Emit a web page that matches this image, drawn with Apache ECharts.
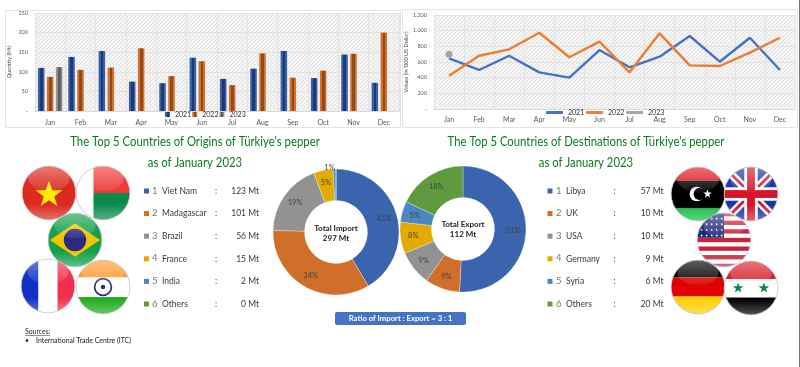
<!DOCTYPE html>
<html>
<head>
<meta charset="utf-8">
<style>
  html, body { margin: 0; padding: 0; background: #fff; }
  #chart { width: 800px; height: 367px; }
</style>
<script src="https://cdn.jsdelivr.net/npm/echarts@6/dist/echarts.min.js"></script>
</head>
<body>
<div id="chart"></div>
<script>
const months = ['Jan', 'Feb', 'Mar', 'Apr', 'May', 'Jun', 'Jul', 'Aug', 'Sep', 'Oct', 'Nov', 'Dec']
const years = ['2021', '2022', '2023']

const qty2021 = [110, 138, 153, 75, 71, 136, 82, 108, 153, 84, 144, 72]
const qty2022 = [87, 105, 111, 160, 89, 127, 66, 147, 85, 103, 146, 200]
const qty2023 = [112, null, null, null, null, null, null, null, null, null, null, null]

const val2021 = [647, 498, 680, 468, 400, 753, 532, 668, 932, 604, 910, 498]
const val2022 = [425, 680, 762, 974, 660, 860, 468, 966, 557, 549, 719, 910]
const val2023 = [698, null, null, null, null, null, null, null, null, null, null, null]

const importNames = ['Viet Nam', 'Madagascar', 'Brazil', 'France', 'India', 'Others']
const importValues = [123, 101, 56, 15, 2, 0]
const exportNames = ['Libya', 'UK', 'USA', 'Germany', 'Syria', 'Others']
const exportValues = [57, 10, 10, 9, 6, 20]

const sliceColors = ['#3a64ad', '#d06f2a', '#929292', '#e5aa00', '#4a86c0', '#5f9a3f']
const FONT = 'Lato, "Open Sans", sans-serif'
const GREEN = '#0b7a1e'
const TEXT = '#3a3a3a'

// grey hatch behind the two plots
function hatch () {
  const c = document.createElement('canvas')
  c.width = 4
  c.height = 4
  const ctx = c.getContext('2d')
  ctx.fillStyle = '#f5f5f5'
  ctx.fillRect(0, 0, 4, 4)
  ctx.strokeStyle = '#dedede'
  ctx.lineWidth = 1
  ctx.beginPath()
  ctx.moveTo(0, 4)
  ctx.lineTo(4, 0)
  ctx.stroke()
  return { image: c, repeat: 'repeat' }
}

function barFill (edge, dark) {
  return {
    type: 'linear', x: 0, y: 0, x2: 1, y2: 0,
    colorStops: [
      { offset: 0, color: edge },
      { offset: 0.3, color: edge },
      { offset: 0.35, color: dark },
      { offset: 0.7, color: dark },
      { offset: 0.75, color: edge },
      { offset: 1, color: edge }
    ]
  }
}

// round glossy flags, drawn as small svg images
function flag (inner) {
  const svg = '<svg xmlns="http://www.w3.org/2000/svg" width="224" height="224" viewBox="0 0 100 100">' +
    '<defs><clipPath id="c"><circle cx="50" cy="50" r="48"/></clipPath>' +
    '<linearGradient id="g" x1="0" y1="0" x2="0" y2="1"><stop offset="0" stop-color="#fff" stop-opacity=".38"/><stop offset="1" stop-color="#fff" stop-opacity=".06"/></linearGradient>' +
    '<linearGradient id="s" x1="0" y1="0" x2="0" y2="1"><stop offset=".7" stop-color="#fff" stop-opacity="0"/><stop offset="1" stop-color="#fff" stop-opacity=".35"/></linearGradient></defs>' +
    '<g clip-path="url(#c)">' + inner + '<rect width="100" height="100" fill="url(#s)"/>' +
    '<ellipse cx="50" cy="24" rx="37" ry="23" fill="url(#g)"/></g>' +
    '<circle cx="50" cy="50" r="48" fill="none" stroke="#c8c8c8" stroke-width="1.5"/></svg>'
  return 'data:image/svg+xml;charset=utf-8,' + encodeURIComponent(svg)
}

function star (cx, cy, r, fill) {
  let pts = ''
  for (let i = 0; i < 10; i++) {
    const a = -Math.PI / 2 + i * Math.PI / 5
    const rr = i % 2 ? r * 0.4 : r
    pts += (cx + rr * Math.cos(a)).toFixed(1) + ',' + (cy + rr * Math.sin(a)).toFixed(1) + ' '
  }
  return '<polygon points="' + pts + '" fill="' + fill + '"/>'
}

function rects (list) {
  return list.map(r => '<rect x="' + r[0] + '" y="' + r[1] + '" width="' + r[2] + '" height="' + r[3] + '" fill="' + r[4] + '"/>').join('')
}

const usStripes = [0, 1, 2, 3, 4, 5, 6].map(i => [0, i * 15.4, 100, 7.7, '#c9233a'])
const usStars = [0, 1, 2, 3].map(r => [0, 1, 2, 3, 4].map(c => star(10 + c * 9, 12 + r * 10, 2.6, '#fff')).join('')).join('')

const flagsLeft = [
  { x: 49, y: 193, art: rects([[0, 0, 100, 100, '#dc2a1e']]) + star(50, 53, 25, '#ffec00') },
  { x: 103, y: 193, art: rects([[0, 0, 100, 100, '#fff'], [33, 0, 67, 50, '#f03a3a'], [33, 50, 67, 50, '#0c8a4c']]) },
  { x: 75, y: 240, art: rects([[0, 0, 100, 100, '#12a04a']]) + '<polygon points="5,50 50,20 95,50 50,80" fill="#f2c300"/><circle cx="50" cy="50" r="20" fill="#2c2a80"/>' },
  { x: 48, y: 286, art: rects([[0, 0, 33, 100, '#1130c8'], [33, 0, 34, 100, '#fff'], [67, 0, 33, 100, '#f2304e']]) },
  { x: 103, y: 287, art: rects([[0, 0, 100, 33, '#ff9a30'], [0, 33, 100, 35, '#fff'], [0, 68, 100, 32, '#1cab1c']]) + '<circle cx="50" cy="50" r="15" fill="#fff" stroke="#2a2a90" stroke-width="3"/><circle cx="50" cy="50" r="4" fill="#2a2a90"/>' }
]
const flagsRight = [
  { x: 698, y: 194, art: rects([[0, 0, 100, 26, '#e0141e'], [0, 26, 100, 50, '#000'], [0, 76, 100, 24, '#10c040']]) + '<circle cx="48" cy="50" r="13" fill="#fff"/><circle cx="53" cy="50" r="11" fill="#000"/>' + star(67, 50, 8, '#fff') },
  { x: 751, y: 194, art: rects([[0, 0, 100, 100, '#2035a0']]) + '<path d="M0 0L100 100M100 0L0 100" stroke="#fff" stroke-width="14"/><path d="M0 0L100 100M100 0L0 100" stroke="#d8142c" stroke-width="5"/>' + rects([[38, 0, 24, 100, '#fff'], [0, 38, 100, 24, '#fff'], [43, 0, 14, 100, '#d8142c'], [0, 43, 100, 14, '#d8142c']]) },
  { x: 724, y: 240, art: rects([[0, 0, 100, 100, '#fff']]) + rects(usStripes) + rects([[0, 0, 50, 46, '#1d2a78']]) + usStars },
  { x: 698, y: 287, art: rects([[0, 0, 100, 33, '#000'], [0, 33, 100, 34, '#e00000'], [0, 67, 100, 33, '#ffce00']]) },
  { x: 751, y: 288, art: rects([[0, 0, 100, 34, '#d81f2a'], [0, 34, 100, 33, '#fff'], [0, 67, 100, 33, '#000']]) + star(27, 50, 10, '#0a8a3c') + star(73, 50, 10, '#0a8a3c') }
]

function textEl (x, y, text, opt, scaleX) {
  return {
    type: 'text', x: x, y: y, z: 10, scaleX: scaleX || 1,
    style: Object.assign({
      text: text, fill: TEXT, font: '8px ' + FONT, align: 'left', verticalAlign: 'middle'
    }, opt || {})
  }
}

// the numbered list next to each doughnut
function listRows (names, values, xs) {
  const els = []
  names.forEach((name, i) => {
    const y = 191 + i * 22.6
    els.push({ type: 'rect', z: 10, shape: { x: xs[0], y: y - 2.5, width: 5, height: 5 }, style: { fill: sliceColors[i] } })
    els.push(textEl(xs[1], y - 0.5, String(i + 1), { font: '9.5px ' + FONT, fill: '#777' }))
    els.push(textEl(xs[2], y, name, { font: '8.5px ' + FONT }))
    els.push(textEl(xs[3], y, ':', { align: 'center', font: '8.5px ' + FONT }))
    els.push(textEl(xs[4], y, values[i] + ' Mt', { align: 'right', font: '8.5px ' + FONT }))
  })
  return els
}

function flagImages (list) {
  return list.map(f => ({
    type: 'image', z: 8, x: f.x - 28, y: f.y - 28,
    style: { image: flag(f.art), x: 0, y: 0, width: 56, height: 56 }
  }))
}

const sum = list => list.reduce((a, b) => a + b, 0)

function doughnut (name, center, names, values) {
  return {
    type: 'pie',
    name: name,
    center: center,
    radius: [31.5, 63],
    startAngle: 90,
    percentPrecision: 0,
    avoidLabelOverlap: false,
    itemStyle: { borderColor: '#fff', borderWidth: 0.3 },
    label: { position: 'inside', formatter: '{d}%', fontFamily: FONT, fontSize: 7.5, color: '#444' },
    labelLine: { show: false, length: 1, length2: 0 },
    data: names.map((n, i) => {
      const item = { name: n, value: values[i], itemStyle: { color: sliceColors[i] } }
      // thin slices do not hold a label
      if (values[i] === 0) item.label = { show: false }
      else if (values[i] / sum(values) < 0.02) item.label = { position: 'outside', distanceToLabelLine: 0, align: 'center' }
      return item
    })
  }
}

const catAxis = (gridIndex, margin) => ({
  type: 'category',
  gridIndex: gridIndex,
  data: months,
  axisTick: { show: false },
  axisLine: { lineStyle: { color: '#d9d9d9' } },
  axisLabel: { fontFamily: FONT, fontSize: 7, color: '#595959', margin: margin },
  splitLine: { show: true, lineStyle: { color: '#e3e3e3' } }
})

const valAxis = (gridIndex, name, max, interval, nameGap, fmt) => ({
  type: 'value',
  gridIndex: gridIndex,
  min: 0,
  max: max,
  interval: interval,
  name: name,
  nameLocation: 'middle',
  nameGap: nameGap,
  nameTextStyle: { fontFamily: FONT, fontSize: 5.5, color: '#444' },
  axisLabel: { fontFamily: FONT, fontSize: 5.5, color: '#595959', margin: 7, formatter: fmt },
  axisLine: { show: false },
  axisTick: { show: false },
  splitLine: { lineStyle: { color: '#e3e3e3' } }
})

const chart = echarts.init(document.getElementById('chart'), null, { renderer: 'canvas' })

const barStyle = { barWidth: 6.5, barGap: '38%', xAxisIndex: 0, yAxisIndex: 0 }
const lineStyle = { xAxisIndex: 1, yAxisIndex: 1, showSymbol: false, symbol: 'circle' }
const titleFont = { font: '14px ' + FONT, fill: GREEN, align: 'center' }
const boldFont = { font: 'bold 8px ' + FONT, fill: '#222', align: 'center' }
const smallFont = { font: '6.9px ' + FONT, fill: '#222' }

chart.setOption({
  animation: false,
  backgroundColor: '#fff',
  textStyle: { fontFamily: FONT },
  grid: [
    { left: 35, top: 13, width: 364, height: 98, show: true, borderWidth: 0, backgroundColor: hatch() },
    { left: 434, top: 15, width: 361, height: 94, show: true, borderWidth: 0, backgroundColor: hatch() }
  ],
  xAxis: [catAxis(0, 8), catAxis(1, 7)],
  yAxis: [
    valAxis(0, 'Quantity (Mt)', 250, 50, 23, v => (v === 0 ? '-' : v)),
    valAxis(1, "Values (in '000 US Dollar)", 1200, 200, 18, v => (v === 0 ? '-' : v >= 1000 ? '1.' + String(v).slice(1) : v))
  ],
  legend: [
    {
      left: 165, top: 111, padding: 0, itemWidth: 5, itemHeight: 5, itemGap: 1, icon: 'rect',
      textStyle: { fontFamily: FONT, fontSize: 7, color: '#333' },
      data: years.map(y => ({ name: y }))
    },
    {
      left: 546, top: 109, padding: 0, itemWidth: 17, itemHeight: 3, itemGap: 0, icon: 'roundRect',
      textStyle: { fontFamily: FONT, fontSize: 7, color: '#333' },
      data: years.map(y => ({ name: y + ' ' }))
    }
  ],
  series: [
    Object.assign({ type: 'bar', name: years[0], data: qty2021, itemStyle: { color: barFill('#3660ac', '#20396f') } }, barStyle),
    Object.assign({ type: 'bar', name: years[1], data: qty2022, itemStyle: { color: barFill('#d2702c', '#8f4a19') } }, barStyle),
    Object.assign({ type: 'bar', name: years[2], data: qty2023, itemStyle: { color: barFill('#929292', '#5c5c5c') } }, barStyle),
    Object.assign({ type: 'line', name: years[0] + ' ', data: val2021, lineStyle: { color: '#4472c4', width: 2.4 }, itemStyle: { color: '#4472c4' } }, lineStyle),
    Object.assign({ type: 'line', name: years[1] + ' ', data: val2022, lineStyle: { color: '#ed7d31', width: 2.4 }, itemStyle: { color: '#ed7d31' } }, lineStyle),
    Object.assign({ type: 'line', name: years[2] + ' ', data: val2023, lineStyle: { color: '#a5a5a5', width: 2.4 }, itemStyle: { color: '#a5a5a5' }, showAllSymbol: true, symbolSize: 7, showSymbol: true, xAxisIndex: 1, yAxisIndex: 1, symbol: 'circle' }),
    doughnut('Import', [336, 232], importNames, importValues),
    doughnut('Export', [463, 229], exportNames, exportValues)
  ],
  graphic: [
    { type: 'rect', z: -1, shape: { x: 5.5, y: 10.5, width: 395, height: 117 }, style: { fill: 'none', stroke: '#e4e4e4', lineWidth: 1 } },
    { type: 'rect', z: -1, shape: { x: 402.5, y: 9.5, width: 395, height: 118 }, style: { fill: 'none', stroke: '#e4e4e4', lineWidth: 1 } },
    { type: 'line', z: 10, shape: { x1: 799.5, y1: 0, x2: 799.5, y2: 367 }, style: { stroke: '#777', lineWidth: 1 } },
    textEl(195, 141, "The Top 5 Countries of Origins of Türkiye's pepper", titleFont, 0.81),
    textEl(195, 162, 'as of January 2023', titleFont, 0.81),
    textEl(586, 141, "The Top 5 Countries of Destinations of Türkiye's pepper", titleFont, 0.81),
    textEl(586, 162, 'as of January 2023', titleFont, 0.81),
    textEl(336, 228, 'Total Import', boldFont),
    textEl(336, 238, sum(importValues) + ' Mt', boldFont),
    textEl(463, 224, 'Total Export', boldFont),
    textEl(463, 234, sum(exportValues) + ' Mt', boldFont),
    { type: 'rect', z: 9, shape: { x: 335, y: 312, width: 131, height: 13, r: 2 }, style: { fill: '#4472c4' } },
    textEl(400.5, 318.5, 'Ratio of Import : Export = 3 : 1', { font: 'bold 7.7px ' + FONT, fill: '#fff', align: 'center' }),
    textEl(25, 332, 'Sources:', smallFont),
    { type: 'line', z: 10, shape: { x1: 25, y1: 335.5, x2: 50, y2: 335.5 }, style: { stroke: '#222', lineWidth: 0.5 } },
    textEl(25, 340.5, '•', smallFont),
    textEl(36, 340.5, 'International Trade Centre (ITC)', smallFont)
  ].concat(
    listRows(importNames, importValues, [144, 152, 162, 216, 259]),
    listRows(exportNames, exportValues, [547.5, 556, 566, 614.5, 663.5]),
    flagImages(flagsLeft),
    flagImages(flagsRight)
  )
})
</script>
</body>
</html>
